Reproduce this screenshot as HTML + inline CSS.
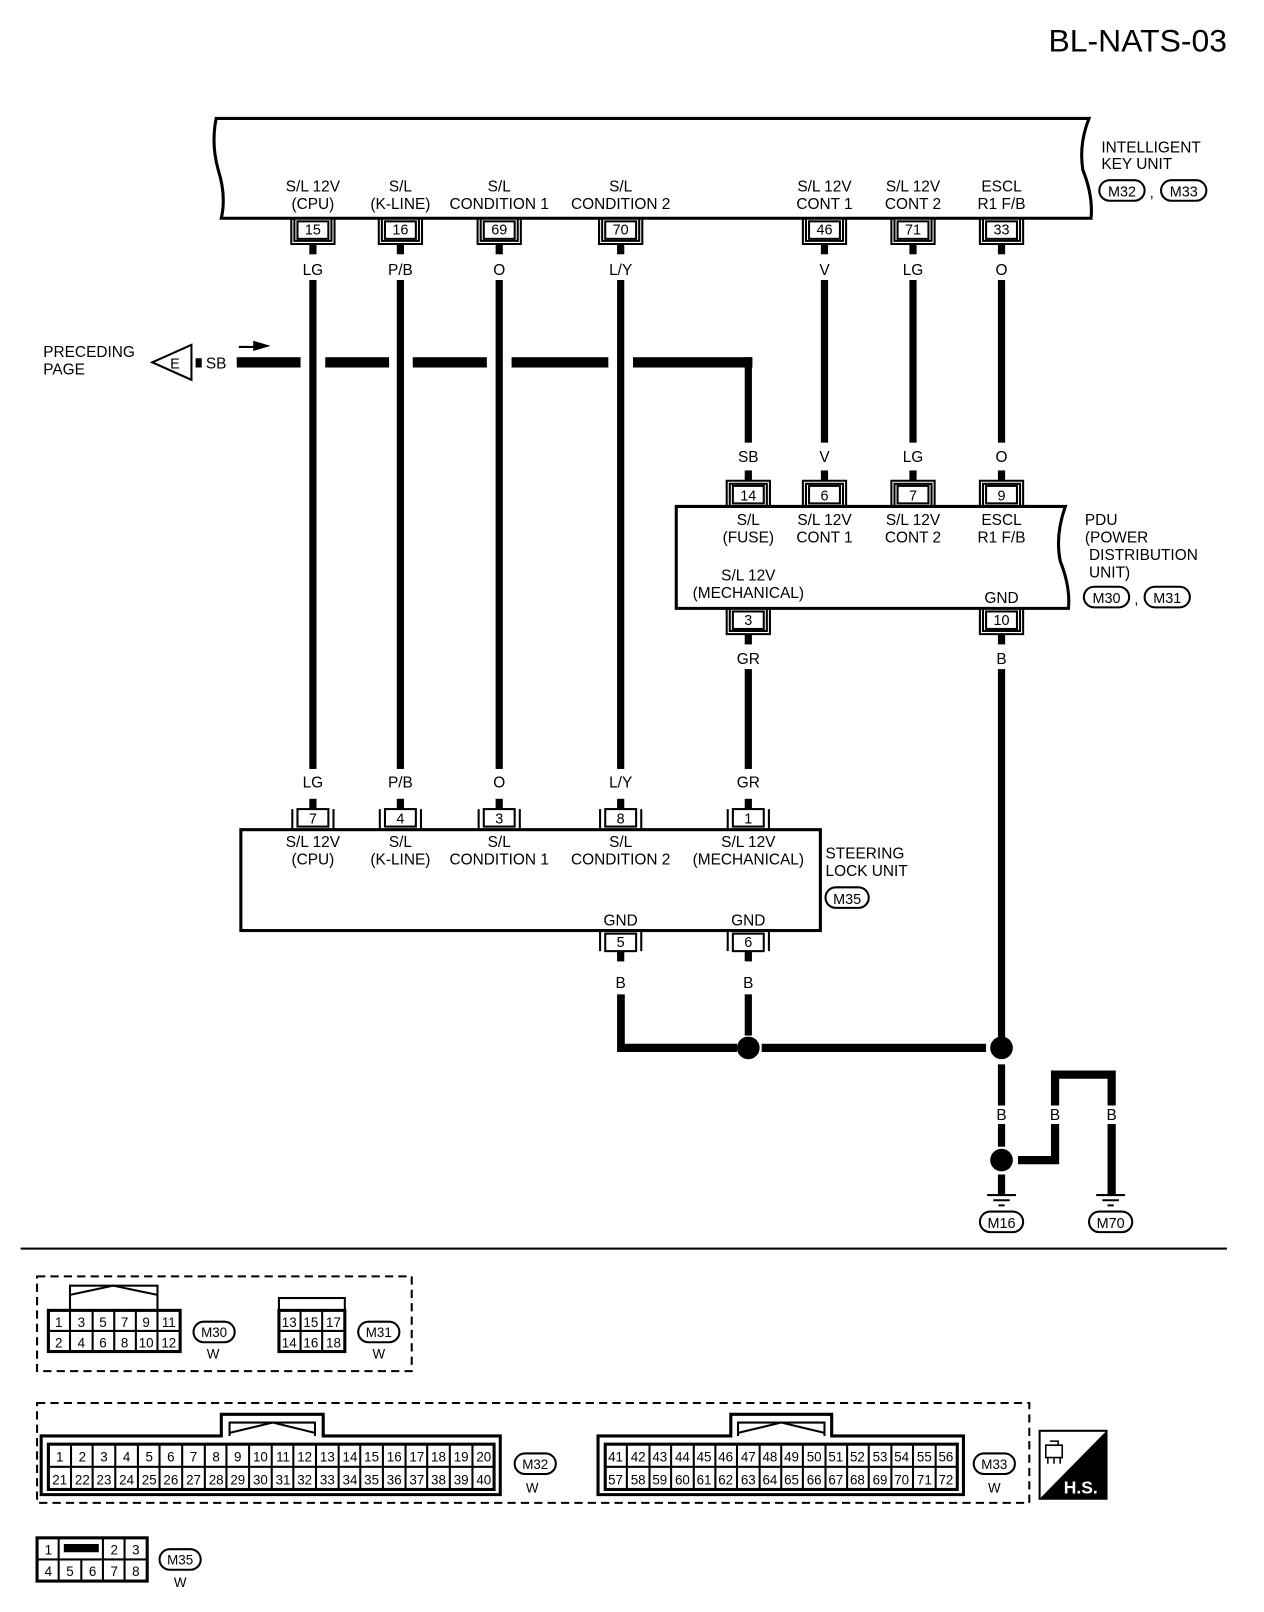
<!DOCTYPE html>
<html><head><meta charset="utf-8"><style>
html,body{margin:0;padding:0;background:#fff}
svg{display:block}
text{font-family:"Liberation Sans",sans-serif;fill:#000}
</style></head><body>
<svg width="1264" height="1612" viewBox="0 0 1228 1566" xmlns="http://www.w3.org/2000/svg">
<defs>
<g id="cd"><rect x="-15" y="3" width="30" height="17" fill="#fff" stroke="#000" stroke-width="2"/><path d="M-21 0V25H21V0M-18 0V22H18V0" fill="none" stroke="#000" stroke-width="2"/><rect x="-3.5" y="25" width="7" height="10"/></g>
<g id="cu"><rect x="-15" y="-20" width="30" height="17" fill="#fff" stroke="#000" stroke-width="2"/><path d="M-21 0V-25H21V0M-18 0V-22H18V0" fill="none" stroke="#000" stroke-width="2"/><rect x="-3.5" y="-35" width="7" height="10"/></g>
<g id="su"><rect x="-15" y="-20" width="30" height="17" fill="#fff" stroke="#000" stroke-width="2"/><path d="M-20 0V-20M20 0V-20" fill="none" stroke="#000" stroke-width="2"/><rect x="-3.5" y="-30" width="7" height="10"/></g>
<g id="sd"><rect x="-15" y="3" width="30" height="17" fill="#fff" stroke="#000" stroke-width="2"/><path d="M-20 0V20M20 0V20" fill="none" stroke="#000" stroke-width="2"/><rect x="-3.5" y="20" width="7" height="10"/></g>
</defs>

<text x="1192" y="50" font-size="31" text-anchor="end">BL-NATS-03</text>

<!-- IKU box -->
<path d="M210 115H1058Q1048 140 1052 165Q1062 190 1060 212H215Q220 190 212 165Q205 140 210 115Z" fill="none" stroke="#000" stroke-width="3"/>
<g font-size="15" text-anchor="middle">
<text x="304" y="186">S/L 12V</text><text x="304" y="203">(CPU)</text>
<text x="389" y="186">S/L</text><text x="389" y="203">(K-LINE)</text>
<text x="485" y="186">S/L</text><text x="485" y="203">CONDITION 1</text>
<text x="603" y="186">S/L</text><text x="603" y="203">CONDITION 2</text>
<text x="801" y="186">S/L 12V</text><text x="801" y="203">CONT 1</text>
<text x="887" y="186">S/L 12V</text><text x="887" y="203">CONT 2</text>
<text x="973" y="186">ESCL</text><text x="973" y="203">R1 F/B</text>
</g>
<g font-size="15"><text x="1070" y="148">INTELLIGENT</text><text x="1070" y="164">KEY UNIT</text></g>
<rect x="1068" y="175" width="44" height="20" rx="10" fill="none" stroke="#000" stroke-width="2"/>
<rect x="1128" y="175" width="44" height="20" rx="10" fill="none" stroke="#000" stroke-width="2"/>
<g font-size="14" text-anchor="middle"><text x="1090" y="191">M32</text><text x="1150" y="191">M33</text><text x="1119" y="192">,</text></g>

<g>
<use href="#cd" x="304" y="212"/><use href="#cd" x="389" y="212"/><use href="#cd" x="485" y="212"/><use href="#cd" x="603" y="212"/>
<use href="#cd" x="801" y="212"/><use href="#cd" x="887" y="212"/><use href="#cd" x="973" y="212"/>
</g>
<g font-size="14" text-anchor="middle">
<text x="304" y="228">15</text><text x="389" y="228">16</text><text x="485" y="228">69</text><text x="603" y="228">70</text>
<text x="801" y="228">46</text><text x="887" y="228">71</text><text x="973" y="228">33</text>
</g>
<g font-size="15" text-anchor="middle">
<text x="304" y="267">LG</text><text x="389" y="267">P/B</text><text x="485" y="267">O</text><text x="603" y="267">L/Y</text>
<text x="801" y="267">V</text><text x="887" y="267">LG</text><text x="973" y="267">O</text>
</g>
<g fill="#000">
<rect x="300.5" y="272" width="7" height="475"/>
<rect x="385.5" y="272" width="7" height="475"/>
<rect x="481.5" y="272" width="7" height="475"/>
<rect x="599.5" y="272" width="7" height="475"/>
<rect x="797.5" y="272" width="7" height="158"/>
<rect x="883.5" y="272" width="7" height="158"/>
<rect x="969.5" y="272" width="7" height="158"/>
<rect x="230" y="347" width="62" height="10"/>
<rect x="316" y="347" width="62" height="10"/>
<rect x="401" y="347" width="72" height="10"/>
<rect x="497" y="347" width="94" height="10"/>
<rect x="615" y="347" width="116" height="10"/>
<rect x="723.5" y="347" width="7" height="83"/>
<rect x="190" y="348" width="6" height="9"/>
</g>
<g font-size="15"><text x="42" y="347">PRECEDING</text><text x="42" y="364">PAGE</text></g>
<path d="M148 352L186 335V369Z" fill="#fff" stroke="#000" stroke-width="2"/>
<text x="170" y="358" font-size="14" text-anchor="middle">E</text>
<text x="200" y="358" font-size="15">SB</text>
<path d="M232 337H248" stroke="#000" stroke-width="2"/><path d="M246 331L263 336L246 341Z"/>

<!-- PDU -->
<g font-size="15" text-anchor="middle"><text x="727" y="449">SB</text><text x="801" y="449">V</text><text x="887" y="449">LG</text><text x="973" y="449">O</text></g>
<path d="M657 492H1035Q1025 520 1030 545Q1040 570 1038 591H657Z" fill="none" stroke="#000" stroke-width="3"/>
<use href="#cu" x="727" y="492"/><use href="#cu" x="801" y="492"/><use href="#cu" x="887" y="492"/><use href="#cu" x="973" y="492"/>
<use href="#cd" x="727" y="591"/><use href="#cd" x="973" y="591"/>
<g font-size="14" text-anchor="middle">
<text x="727" y="486">14</text><text x="801" y="486">6</text><text x="887" y="486">7</text><text x="973" y="486">9</text>
<text x="727" y="607">3</text><text x="973" y="607">10</text>
</g>
<g font-size="15" text-anchor="middle">
<text x="727" y="510">S/L</text><text x="727" y="527">(FUSE)</text>
<text x="801" y="510">S/L 12V</text><text x="801" y="527">CONT 1</text>
<text x="887" y="510">S/L 12V</text><text x="887" y="527">CONT 2</text>
<text x="973" y="510">ESCL</text><text x="973" y="527">R1 F/B</text>
<text x="727" y="564">S/L 12V</text><text x="727" y="581">(MECHANICAL)</text>
<text x="973" y="586">GND</text>
<text x="727" y="645">GR</text><text x="973" y="645">B</text>
</g>
<g font-size="15"><text x="1054" y="510">PDU</text><text x="1054" y="527">(POWER</text><text x="1058" y="544">DISTRIBUTION</text><text x="1058" y="561">UNIT)</text></g>
<rect x="1053" y="570" width="44" height="20" rx="10" fill="none" stroke="#000" stroke-width="2"/>
<rect x="1112" y="570" width="44" height="20" rx="10" fill="none" stroke="#000" stroke-width="2"/>
<g font-size="14" text-anchor="middle"><text x="1075" y="586">M30</text><text x="1134" y="586">M31</text><text x="1104" y="587">,</text></g>
<rect x="723.5" y="650" width="7" height="97"/>
<rect x="969.5" y="650" width="7" height="360"/>

<!-- steering lock unit -->
<g font-size="15" text-anchor="middle">
<text x="304" y="765">LG</text><text x="389" y="765">P/B</text><text x="485" y="765">O</text><text x="603" y="765">L/Y</text><text x="727" y="765">GR</text>
</g>
<rect x="234" y="806" width="563" height="98" fill="none" stroke="#000" stroke-width="3"/>
<use href="#su" x="304" y="806"/><use href="#su" x="389" y="806"/><use href="#su" x="485" y="806"/><use href="#su" x="603" y="806"/><use href="#su" x="727" y="806"/>
<use href="#sd" x="603" y="904"/><use href="#sd" x="727" y="904"/>
<g font-size="14" text-anchor="middle">
<text x="304" y="800">7</text><text x="389" y="800">4</text><text x="485" y="800">3</text><text x="603" y="800">8</text><text x="727" y="800">1</text>
<text x="603" y="920">5</text><text x="727" y="920">6</text>
</g>
<g font-size="15" text-anchor="middle">
<text x="304" y="823">S/L 12V</text><text x="304" y="840">(CPU)</text>
<text x="389" y="823">S/L</text><text x="389" y="840">(K-LINE)</text>
<text x="485" y="823">S/L</text><text x="485" y="840">CONDITION 1</text>
<text x="603" y="823">S/L</text><text x="603" y="840">CONDITION 2</text>
<text x="727" y="823">S/L 12V</text><text x="727" y="840">(MECHANICAL)</text>
<text x="603" y="899">GND</text><text x="727" y="899">GND</text>
<text x="603" y="960">B</text><text x="727" y="960">B</text>
</g>
<g font-size="15"><text x="802" y="834">STEERING</text><text x="802" y="851">LOCK UNIT</text></g>
<rect x="802" y="862" width="42" height="20" rx="10" fill="none" stroke="#000" stroke-width="2"/>
<text x="823" y="878" font-size="14" text-anchor="middle">M35</text>

<!-- ground network -->
<g fill="#000">
<path d="M599.5 966H607V1014H716V1022H599.5Z"/>
<rect x="723.5" y="966" width="7" height="40"/>
<rect x="740" y="1014" width="218" height="8"/>
<circle cx="727" cy="1018" r="11"/>
<circle cx="973" cy="1018" r="11"/>
<rect x="969.5" y="1034" width="7" height="40"/>
<rect x="969.5" y="1092" width="7" height="22"/>
<circle cx="973" cy="1127" r="11"/>
<rect x="969.5" y="1141" width="7" height="19"/>
<path d="M989 1123H1021V1092H1029V1131H989Z"/>
<path d="M1021 1074V1040H1084V1074H1076V1048H1029V1074Z"/>
<rect x="1076" y="1092" width="8" height="68"/>
</g>
<g font-size="15" text-anchor="middle"><text x="973" y="1088">B</text><text x="1025" y="1088">B</text><text x="1080" y="1088">B</text></g>
<path d="M959 1161H987M965 1166H981M970 1171H976" stroke="#000" stroke-width="2"/>
<path d="M1065 1161H1093M1071 1166H1087M1076 1171H1082" stroke="#000" stroke-width="2"/>
<rect x="952" y="1177" width="42" height="20" rx="10" fill="none" stroke="#000" stroke-width="2"/>
<rect x="1058" y="1177" width="42" height="20" rx="10" fill="none" stroke="#000" stroke-width="2"/>
<g font-size="14" text-anchor="middle"><text x="973" y="1193">M16</text><text x="1079" y="1193">M70</text></g>

<rect x="20" y="1212" width="1172" height="2"/>

<g fill="none" stroke="#000" stroke-width="2" stroke-dasharray="8 5">
<rect x="36" y="1240" width="364" height="92"/>
<rect x="36" y="1363" width="964" height="97"/>
</g>
<g fill="none" stroke="#000" stroke-width="2">
<rect x="68" y="1249" width="85" height="24"/><path d="M68 1258L110 1249L153 1258"/>
<rect x="47" y="1273" width="128" height="40" stroke-width="3"/>
<path d="M68 1273V1313M90 1273V1313M111 1273V1313M132 1273V1313M153 1273V1313M47 1293H175"/>
<rect x="271" y="1261" width="64" height="52"/><rect x="271" y="1273" width="64" height="40" stroke-width="3"/>
<path d="M292 1273V1313M313 1273V1313M271 1293H335"/>
<rect x="188" y="1284" width="40" height="20" rx="10"/><rect x="348" y="1284" width="40" height="20" rx="10"/>
</g>
<g font-size="13" text-anchor="middle">
<text x="57" y="1289">1</text><text x="79" y="1289">3</text><text x="100" y="1289">5</text><text x="121" y="1289">7</text><text x="142" y="1289">9</text><text x="164" y="1289">11</text>
<text x="57" y="1309">2</text><text x="79" y="1309">4</text><text x="100" y="1309">6</text><text x="121" y="1309">8</text><text x="142" y="1309">10</text><text x="164" y="1309">12</text>
<text x="281" y="1289">13</text><text x="302" y="1289">15</text><text x="324" y="1289">17</text>
<text x="281" y="1309">14</text><text x="302" y="1309">16</text><text x="324" y="1309">18</text>
<text x="208" y="1299">M30</text><text x="207" y="1320">W</text>
<text x="368" y="1299">M31</text><text x="368" y="1320">W</text>
</g>
<g fill="none" stroke="#000" stroke-width="2">
<path d="M40 1395H215V1374H314V1395H486V1452H40Z" stroke-width="3"/>
<path d="M223 1395V1382H306V1395M223 1392L265 1382L306 1392"/>
<rect x="47" y="1403" width="433" height="44" stroke-width="3"/>
<path d="M47 1425H480M69 1403V1447M90 1403V1447M112 1403V1447M134 1403V1447M155 1403V1447M177 1403V1447M199 1403V1447M220 1403V1447M242 1403V1447M264 1403V1447M285 1403V1447M307 1403V1447M329 1403V1447M350 1403V1447M372 1403V1447M394 1403V1447M415 1403V1447M437 1403V1447M459 1403V1447"/>
<path d="M581 1395H710V1374H808V1395H936V1452H581Z" stroke-width="3"/>
<path d="M717 1395V1382H801V1395M717 1392L759 1382L801 1392"/>
<rect x="588" y="1403" width="342" height="44" stroke-width="3"/>
<path d="M588 1425H930M609 1403V1447M631 1403V1447M652 1403V1447M674 1403V1447M695 1403V1447M716 1403V1447M738 1403V1447M759 1403V1447M780 1403V1447M802 1403V1447M823 1403V1447M844 1403V1447M866 1403V1447M887 1403V1447M909 1403V1447"/>
<rect x="500" y="1412" width="40" height="20" rx="10"/><rect x="946" y="1412" width="40" height="20" rx="10"/>
</g>
<g font-size="13" text-anchor="middle">
<text x="58" y="1420">1</text><text x="80" y="1420">2</text><text x="101" y="1420">3</text><text x="123" y="1420">4</text><text x="145" y="1420">5</text><text x="166" y="1420">6</text><text x="188" y="1420">7</text><text x="210" y="1420">8</text><text x="231" y="1420">9</text><text x="253" y="1420">10</text><text x="275" y="1420">11</text><text x="296" y="1420">12</text><text x="318" y="1420">13</text><text x="340" y="1420">14</text><text x="361" y="1420">15</text><text x="383" y="1420">16</text><text x="405" y="1420">17</text><text x="426" y="1420">18</text><text x="448" y="1420">19</text><text x="470" y="1420">20</text>
<text x="58" y="1442">21</text><text x="80" y="1442">22</text><text x="101" y="1442">23</text><text x="123" y="1442">24</text><text x="145" y="1442">25</text><text x="166" y="1442">26</text><text x="188" y="1442">27</text><text x="210" y="1442">28</text><text x="231" y="1442">29</text><text x="253" y="1442">30</text><text x="275" y="1442">31</text><text x="296" y="1442">32</text><text x="318" y="1442">33</text><text x="340" y="1442">34</text><text x="361" y="1442">35</text><text x="383" y="1442">36</text><text x="405" y="1442">37</text><text x="426" y="1442">38</text><text x="448" y="1442">39</text><text x="470" y="1442">40</text>
<text x="598" y="1420">41</text><text x="620" y="1420">42</text><text x="641" y="1420">43</text><text x="663" y="1420">44</text><text x="684" y="1420">45</text><text x="705" y="1420">46</text><text x="727" y="1420">47</text><text x="748" y="1420">48</text><text x="769" y="1420">49</text><text x="791" y="1420">50</text><text x="812" y="1420">51</text><text x="833" y="1420">52</text><text x="855" y="1420">53</text><text x="876" y="1420">54</text><text x="898" y="1420">55</text><text x="919" y="1420">56</text>
<text x="598" y="1442">57</text><text x="620" y="1442">58</text><text x="641" y="1442">59</text><text x="663" y="1442">60</text><text x="684" y="1442">61</text><text x="705" y="1442">62</text><text x="727" y="1442">63</text><text x="748" y="1442">64</text><text x="769" y="1442">65</text><text x="791" y="1442">66</text><text x="812" y="1442">67</text><text x="833" y="1442">68</text><text x="855" y="1442">69</text><text x="876" y="1442">70</text><text x="898" y="1442">71</text><text x="919" y="1442">72</text>
<text x="520" y="1427">M32</text><text x="517" y="1450">W</text>
<text x="966" y="1427">M33</text><text x="966" y="1450">W</text>
</g>
<rect x="1010" y="1390" width="65" height="66" fill="#fff" stroke="#000" stroke-width="2"/>
<path d="M1075 1390V1456H1010Z" fill="#000"/>
<text x="1050" y="1451" font-size="17" font-weight="bold" text-anchor="middle" style="fill:#fff">H.S.</text>
<path d="M1016 1404h16v12h-16zM1020 1400h8v4M1018 1416v6M1024 1416v6M1030 1416v6" fill="none" stroke="#000" stroke-width="1.5"/>
<g fill="none" stroke="#000" stroke-width="2">
<rect x="36" y="1494" width="107" height="42" stroke-width="3"/>
<path d="M36 1515H143M57 1494V1536M79 1515V1536M100 1494V1536M121 1494V1536"/>
<rect x="155" y="1505" width="40" height="20" rx="10"/>
</g>
<rect x="62" y="1500" width="34" height="8"/>
<g font-size="13" text-anchor="middle">
<text x="47" y="1510">1</text><text x="111" y="1510">2</text><text x="132" y="1510">3</text>
<text x="47" y="1531">4</text><text x="68" y="1531">5</text><text x="90" y="1531">6</text><text x="111" y="1531">7</text><text x="132" y="1531">8</text>
<text x="175" y="1520">M35</text><text x="175" y="1542">W</text>
</g>
</svg>
</body></html>
